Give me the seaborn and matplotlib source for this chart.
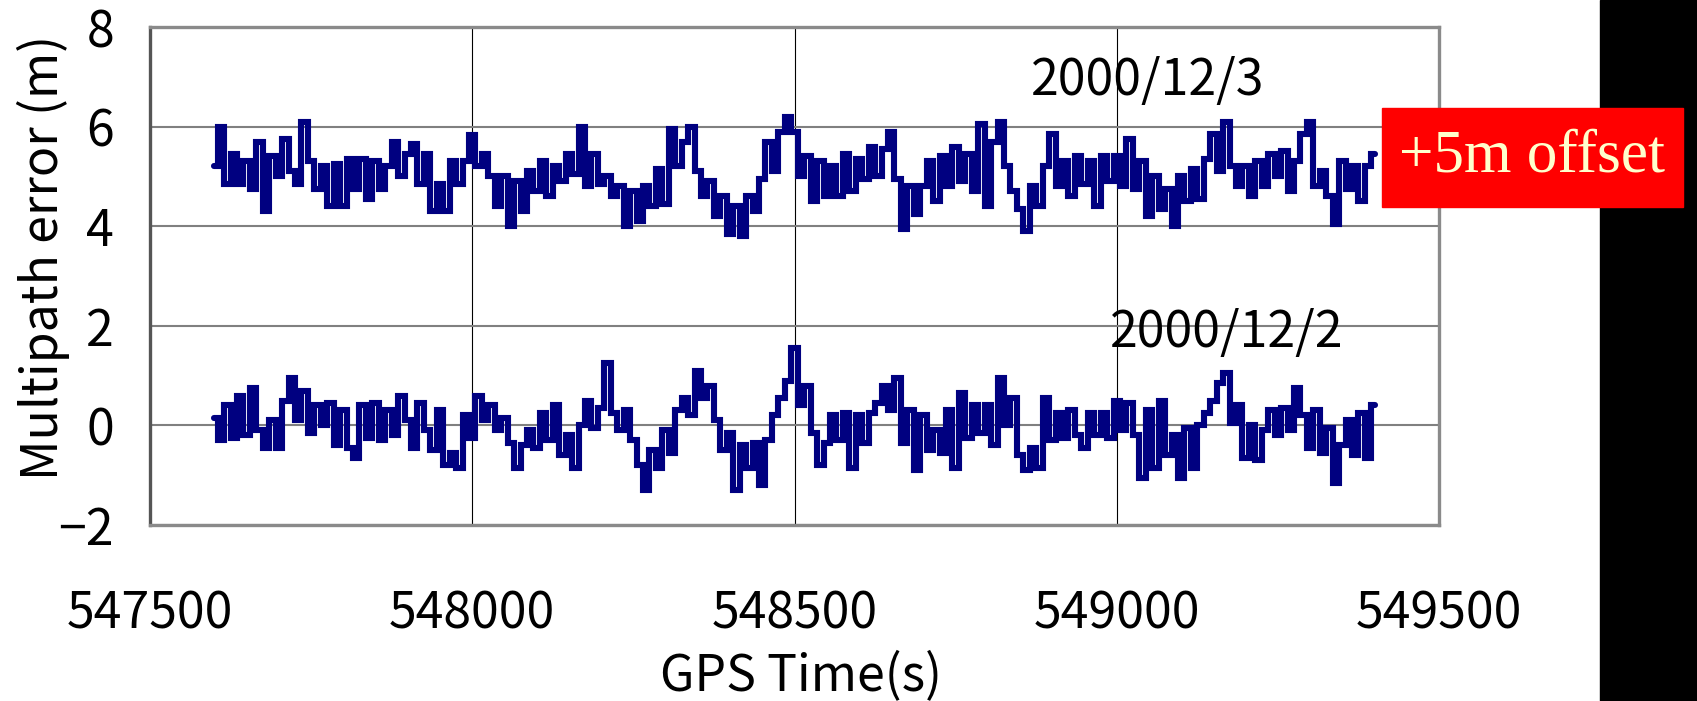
import numpy as np
import pandas as pd
import matplotlib
matplotlib.use("Agg")
import matplotlib.pyplot as plt
from matplotlib.patches import Rectangle
import seaborn as sns

# GPS time of each sample (10 s resolution)
gps_time = np.arange(547600, 549410, 10)

# 2000/12/3, plotted with +5 m offset
mp_dec3 = [
    5.2, 6.0, 4.85, 5.45, 4.85, 5.3, 4.75, 5.7, 4.3, 5.4,
    5.0, 5.75, 5.1, 4.85, 6.1, 5.3, 4.75, 5.2, 4.4, 5.25,
    4.4, 5.35, 4.75, 5.35, 4.55, 5.3, 4.75, 5.2, 5.7, 5.0,
    5.45, 5.65, 4.85, 5.45, 4.3, 4.85, 4.3, 5.3, 4.85, 5.3,
    5.83, 5.2, 5.45, 5.0, 4.4, 5.0, 4.0, 4.9, 4.3, 5.1,
    4.7, 5.3, 4.6, 5.2, 4.9, 5.45, 5.05, 6.0, 4.8, 5.45,
    4.85, 5.0, 4.6, 4.8, 4.0, 4.7, 4.1, 4.8, 4.4, 5.15,
    4.45, 5.95, 5.2, 5.7, 6.0, 5.1, 4.6, 4.9, 4.2, 4.6,
    3.85, 4.4, 3.8, 4.6, 4.3, 4.95, 5.7, 5.1, 5.9, 6.2,
    5.9, 5.0, 5.4, 4.5, 5.3, 4.6, 5.2, 4.6, 5.45, 4.7,
    5.35, 4.95, 5.6, 5.0, 5.55, 5.9, 4.95, 3.95, 4.8, 4.25,
    4.8, 5.3, 4.5, 5.4, 4.8, 5.6, 4.9, 5.45, 4.7, 6.05,
    4.4, 5.7, 6.1, 5.2, 4.7, 4.35, 3.9, 4.8, 4.4, 5.2,
    5.85, 4.8, 5.3, 4.6, 5.4, 4.85, 5.3, 4.4, 5.4, 4.9,
    5.4, 4.8, 5.75, 4.75, 5.3, 4.2, 5.0, 4.35, 4.75, 4.0,
    5.0, 4.5, 5.15, 4.55, 5.35, 5.85, 5.1, 6.1, 5.2, 4.8,
    5.2, 4.6, 5.3, 4.8, 5.45, 5.0, 5.5, 4.7, 5.3, 5.85,
    6.1, 4.8, 5.1, 4.6, 4.05, 5.3, 4.75, 5.2, 4.5, 5.2,
    5.45,
]

# 2000/12/2
mp_dec2 = [
    0.15, -0.3, 0.4, -0.25, 0.6, -0.2, 0.75, -0.1, -0.45, 0.1,
    -0.45, 0.5, 0.95, 0.1, 0.7, -0.15, 0.4, 0.0, 0.45, -0.4,
    0.3, -0.45, -0.65, 0.4, -0.25, 0.45, -0.3, 0.3, -0.2, 0.6,
    0.1, -0.45, 0.45, -0.1, -0.5, 0.3, -0.8, -0.55, -0.85, 0.2,
    -0.25, 0.6, 0.1, 0.4, -0.1, 0.15, -0.35, -0.85, -0.4, -0.1,
    -0.45, 0.25, -0.3, 0.4, -0.6, -0.2, -0.85, 0.0, 0.5, -0.05,
    0.35, 1.25, 0.25, -0.1, 0.3, -0.3, -0.8, -1.3, -0.5, -0.85,
    -0.1, -0.55, 0.3, 0.55, 0.2, 1.1, 0.55, 0.8, 0.1, -0.5,
    -0.15, -1.3, -0.4, -0.85, -0.35, -1.2, -0.3, 0.2, 0.55, 0.9,
    1.55, 0.4, 0.8, -0.15, -0.8, -0.35, 0.2, -0.3, 0.25, -0.85,
    0.2, -0.35, 0.25, 0.45, 0.8, 0.3, 0.95, -0.35, 0.3, -0.9,
    0.2, -0.5, -0.1, -0.55, 0.3, -0.85, 0.65, -0.25, 0.4, -0.15,
    0.4, -0.4, 0.95, 0.0, 0.55, -0.6, -0.9, -0.45, -0.85, 0.55,
    -0.3, 0.25, -0.25, 0.3, -0.2, -0.45, 0.25, -0.2, 0.25, -0.25,
    0.5, -0.1, 0.45, -0.2, -1.05, 0.3, -0.85, 0.5, -0.6, -0.2,
    -1.05, -0.05, -0.85, 0.0, 0.25, 0.5, 0.85, 1.05, 0.05, 0.4,
    -0.65, 0.0, -0.7, -0.1, 0.3, -0.2, 0.35, -0.1, 0.75, 0.2,
    -0.45, 0.3, -0.55, -0.05, -1.15, -0.4, 0.1, -0.6, 0.25, -0.65,
    0.4,
]

x_ticks = [547500, 548000, 548500, 549000, 549500]
y_ticks = [-2, 0, 2, 4, 6, 8]
y_tick_labels = ["\u22122", "0", "2", "4", "6", "8"]

sns.set_style("white")
plt.rcParams["font.family"] = ["Noto Sans CJK JP", "DejaVu Sans"]
plt.rcParams["text.color"] = "black"
plt.rcParams["xtick.color"] = "black"
plt.rcParams["ytick.color"] = "black"

fig = plt.figure(figsize=(16.97, 7.01), dpi=100)
ax = fig.add_axes([150 / 1697, 1 - 525 / 701, 1289 / 1697, 498 / 701])

df = pd.DataFrame({"t": gps_time, "dec3": mp_dec3, "dec2": mp_dec2})
for col in ["dec3", "dec2"]:
    sns.lineplot(data=df, x="t", y=col, ax=ax, color="#000080",
                 drawstyle="steps-mid", estimator=None, zorder=3)
for ln in ax.lines:
    ln.set_linewidth(4.4)
    ln.set_solid_joinstyle("miter")

ax.set_xlim(547500, 549500)
ax.set_ylim(-2, 8)
ax.set_xticks(x_ticks)
ax.set_yticks(y_ticks)
ax.set_yticklabels(y_tick_labels)
ax.set_xlabel("")
ax.set_ylabel("")
ax.yaxis.grid(True, color="#808080", lw=1.5)
ax.xaxis.grid(True, color="#000000", lw=0.8)
for s in ax.spines.values():
    s.set_color("#8a8a8a")
    s.set_linewidth(2.4)
ax.spines["left"].set_color("#555555")
ax.tick_params(axis="y", direction="in", length=10, width=1, color="#222222",
               labelsize=36, pad=26)
ax.tick_params(axis="x", direction="in", length=0, labelsize=36, pad=46)

ax.text(549048, 6.91, "2000/12/3", fontsize=36, ha="center", va="center")
ax.text(549171, 1.85, "2000/12/2", fontsize=36, ha="center", va="center")

fig.text(43 / 1697, 1 - 257 / 701, "Multipath error (m)", rotation=90,
         fontsize=36, ha="center", va="center")
fig.text(801 / 1697, 1 - 676 / 701, "GPS Time(s)", fontsize=36,
         ha="center", va="center")

# black strip at the right edge and the red offset note
fig.patches.append(Rectangle((1600 / 1697, 0), 97 / 1697, 1, color="black",
                             transform=fig.transFigure, zorder=5))
fig.patches.append(Rectangle((1382 / 1697, 1 - 207 / 701), 301 / 1697, 99 / 701,
                             color="#FF0000", transform=fig.transFigure, zorder=6))
fig.text(1532 / 1697, 1 - 157 / 701, "+5m offset", family="Liberation Serif",
         fontsize=44, color="#FFFFCC", ha="center", va="center", zorder=7)

fig.savefig("out.png", dpi=100)
